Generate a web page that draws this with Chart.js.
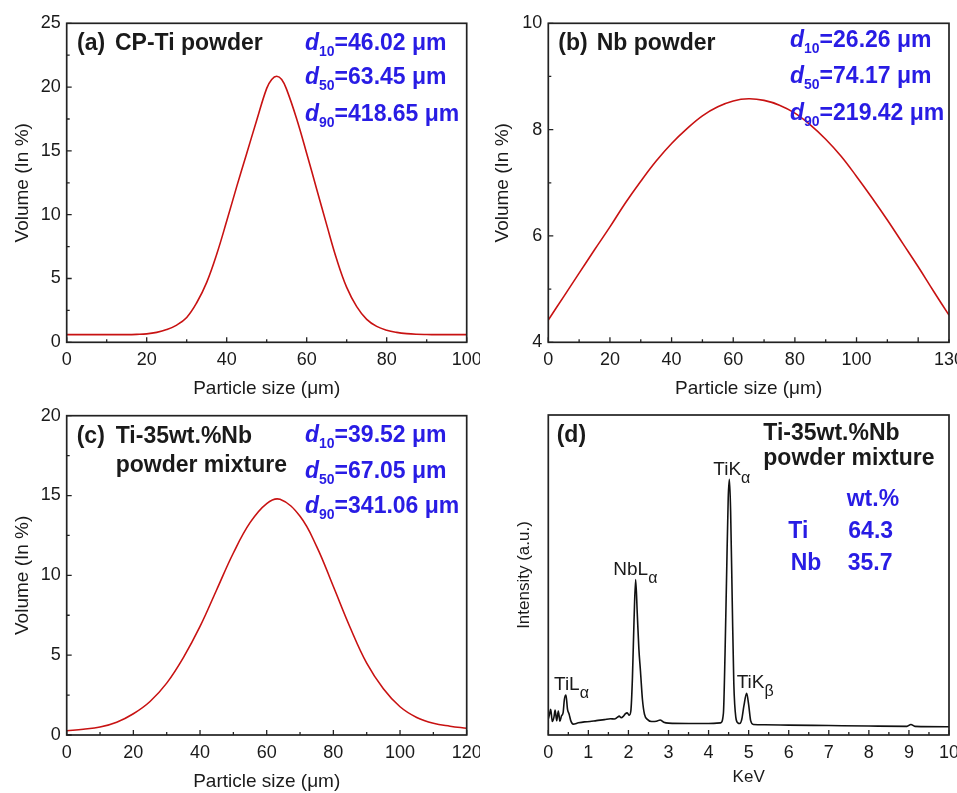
<!DOCTYPE html>
<html><head><meta charset="utf-8">
<script src="https://cdn.jsdelivr.net/npm/chart.js@4/dist/chart.umd.min.js"></script>
<style>
html,body{margin:0;padding:0;background:#fff;}
#wrap{position:relative;width:957px;height:793px;overflow:hidden;background:#fff;}
canvas{position:absolute;}
</style></head><body>
<div id="wrap">
<canvas id="ca" width="480" height="400" style="left:0px;top:0px"></canvas>
<canvas id="cb" width="477" height="400" style="left:480px;top:0px"></canvas>
<canvas id="cc" width="480" height="393" style="left:0px;top:400px"></canvas>
<canvas id="cd" width="477" height="393" style="left:480px;top:400px"></canvas>
</div>
<script>
// ---------- DATA ----------
const tiSize   = [0,2.5,5,7.5,10,12.5,15,17.5,20,22.5,25,27.5,30,32.5,35,37.5,40,42.5,45,47.5,50,51.25,52.5,53.75,55,57.5,60,62.5,65,67.5,70,72.5,75,77.5,80,82.5,85,87.5,90,92.5,95,97.5,100];
const tiVolume = [0.6,0.6,0.6,0.6,0.6,0.6,0.6,0.62,0.66,0.78,1.0,1.35,1.95,3.1,4.7,6.9,9.5,12.2,14.8,17.4,19.9,20.6,20.85,20.6,19.8,17.5,14.8,12.0,9.2,6.5,4.3,2.8,1.8,1.25,0.95,0.78,0.68,0.63,0.61,0.6,0.6,0.6,0.6];

const nbSize   = [0,5,10,15,20,25,30,35,40,45,50,55,60,65,70,75,80,85,90,95,100,105,110,115,120,125,130];
const nbVolume = [4.42,4.86,5.30,5.74,6.17,6.62,7.03,7.41,7.74,8.02,8.26,8.43,8.54,8.58,8.55,8.46,8.31,8.09,7.82,7.50,7.12,6.72,6.30,5.86,5.42,4.96,4.51];

const mixSize   = [0,5,10,15,20,25,30,35,40,45,50,55,60,64,70,75,80,85,90,95,100,105,110,115,120];
const mixVolume = [0.27,0.36,0.5,0.8,1.33,2.1,3.25,4.85,6.8,9.1,11.4,13.3,14.5,14.76,13.7,11.8,9.3,6.75,4.5,2.9,1.77,1.1,0.73,0.55,0.42];

const edsEnergy = [0,0.03,0.06,0.10,0.14,0.17,0.21,0.25,0.29,0.33,0.37,0.40,0.44,0.48,0.52,0.56,0.62,0.75,0.90,1.04,1.20,1.40,1.55,1.65,1.72,1.77,1.82,1.87,1.92,1.97,2.02,2.06,2.10,2.14,2.18,2.22,2.26,2.30,2.35,2.40,2.48,2.58,2.70,2.79,2.88,3.00,3.50,4.00,4.30,4.37,4.41,4.45,4.49,4.52,4.55,4.59,4.63,4.68,4.73,4.78,4.83,4.88,4.95,5.00,5.05,5.12,5.40,6.00,7.00,8.00,8.95,9.05,9.15,10.00];
const edsIntensity = [5.0,6.5,8.0,4.2,5.5,7.8,4.5,7.5,4.3,6.0,7.0,11.0,12.5,8.0,6.5,4.5,3.4,3.8,4.1,4.2,4.5,4.8,5.1,5.0,5.5,5.9,5.4,5.8,6.6,6.9,6.2,7.5,18.0,36.0,48.6,38.0,27.0,20.0,11.0,6.5,4.8,4.2,4.3,4.7,4.0,3.7,3.6,3.6,3.8,6.8,25.0,50.0,74.0,79.9,70.0,42.0,16.0,5.5,3.8,3.6,5.0,9.0,13.0,9.5,4.5,3.3,3.2,3.1,2.95,2.8,2.7,3.3,2.7,2.6];

const xTitleSize = 'Particle size (μm)';
const yTitleVol  = 'Volume (In %)';
const xTitleEds  = 'KeV';
const yTitleEds  = 'Intensity (a.u.)';

// ---------- STYLE ----------
const FF = '"Liberation Sans", Arial, Helvetica, sans-serif';
const RED = 'rgb(200,18,18)';
const BLUE = 'rgb(40,28,228)';
const INK = '#1a1a1a';
Chart.defaults.font.family = FF;
Chart.defaults.color = INK;

function pts(xs, ys){ return xs.map((x,i)=>({x:x, y:ys[i]})); }

function frameTicksPlugin(o){
  return {
    id:'frameTicks',
    afterDatasetsDraw(chart){
      const {ctx, chartArea:a, scales} = chart;
      ctx.save();
      ctx.strokeStyle = '#222';
      ctx.lineWidth = 1.3;
      ctx.beginPath();
      const xs = scales.x;
      const n = Math.round((o.xMax - o.xMin)/o.xMinor);
      for(let i=0;i<=n;i++){
        const v = o.xMin + i*o.xMinor;
        const px = xs.getPixelForValue(v);
        const major = Math.abs(v/o.xMajor - Math.round(v/o.xMajor)) < 1e-6;
        const len = major ? 5 : 3;
        ctx.moveTo(px, a.bottom); ctx.lineTo(px, a.bottom - len);
      }
      if(o.yMinor){
        const ys = scales.y;
        const m = Math.round((o.yMax - o.yMin)/o.yMinor);
        for(let i=0;i<=m;i++){
          const v = o.yMin + i*o.yMinor;
          const py = ys.getPixelForValue(v);
          const major = Math.abs((v-o.yMin)/o.yMajor - Math.round((v-o.yMin)/o.yMajor)) < 1e-6;
          const len = major ? 5 : 3;
          ctx.moveTo(a.left, py); ctx.lineTo(a.left + len, py);
        }
      }
      ctx.stroke();
      ctx.lineWidth = 1.7;
      ctx.strokeStyle = '#222';
      ctx.strokeRect(a.left, a.top, a.right - a.left, a.bottom - a.top);
      // texts
      ctx.textBaseline = 'alphabetic';
      ctx.textAlign = 'left';
      (o.texts||[]).forEach(item=>{
        let x = item.x;
        item.parts.forEach(p=>{
          ctx.font = p.f + ' ' + FF;
          ctx.fillStyle = p.c || INK;
          ctx.fillText(p.t, x, item.y + (p.dy||0));
          x += ctx.measureText(p.t).width + (p.gap||0);
        });
      });
      ctx.restore();
    }
  };
}

function dLine(x, y, sub, rest){
  return {x:x, y:y, parts:[
    {t:'d', f:'italic bold 23px', c:BLUE},
    {t:sub, f:'bold 14px', c:BLUE, dy:6},
    {t:rest, f:'bold 23px', c:BLUE}
  ]};
}
function bold(x,y,t,c){ return {x:x,y:y,parts:[{t:t,f:'bold 23px',c:c||INK}]}; }
function peak(x,y,main,sub){ return {x:x,y:y,parts:[{t:main,f:'19px'},{t:sub,f:'16px',dy:8}]}; }

function makeChart(id, cfg){
  const ticksFont = {size:18, family:FF};
  const titleFont = {size:cfg.titleSize || 19, family:FF};
  return new Chart(document.getElementById(id), {
    type:'line',
    data:{datasets:[{data:cfg.data, borderColor:cfg.color, borderWidth:1.6, pointRadius:0, fill:false,
      cubicInterpolationMode:cfg.mono ? 'monotone' : 'default', tension:0.4}]},
    options:{
      responsive:false, animation:false, devicePixelRatio:1,
      layout:{padding:cfg.pad},
      plugins:{legend:{display:false}, tooltip:{enabled:false}, title:{display:false}},
      scales:{
        x:{type:'linear', min:cfg.xMin, max:cfg.xMax,
           ticks:{stepSize:cfg.xMajor, padding:7, font:ticksFont, color:INK, maxRotation:0, autoSkip:false},
           grid:{display:false, drawTicks:false}, border:{display:false},
           title:{display:true, text:cfg.xTitle, font:titleFont, color:INK, padding:{top:0,bottom:cfg.xTitlePad}},
           afterFit:(s)=>{ s.height = cfg.xH; s.paddingLeft=0; s.paddingRight=0; s.paddingTop=0; s.paddingBottom=0; }
        },
        y:{type:'linear', min:cfg.yMin, max:cfg.yMax,
           ticks:{display:cfg.yTicks, stepSize:cfg.yMajor, padding:6, font:ticksFont, color:INK},
           grid:{display:false, drawTicks:false}, border:{display:false},
           title:{display:true, text:cfg.yTitle, font:titleFont, color:INK, padding:{top:cfg.yTitlePad,bottom:0}},
           afterFit:(s)=>{ s.width = cfg.yW; s.paddingLeft=0; s.paddingRight=0; s.paddingTop=0; s.paddingBottom=0; }
        }
      }
    },
    plugins:[frameTicksPlugin(cfg.frame)]
  });
}

// (a)
makeChart('ca', {
  data: pts(tiSize, tiVolume), color: RED,
  pad:{left:0, top:23.3, right:13.3, bottom:0},
  xMin:0, xMax:100, xMajor:20, yMin:0, yMax:25, yMajor:5, yTicks:true,
  xTitle:xTitleSize, yTitle:yTitleVol, xH:57.7, yW:66.7, xTitlePad:0, yTitlePad:11,
  frame:{xMin:0,xMax:100,xMinor:10,xMajor:20,yMin:0,yMax:25,yMinor:2.5,yMajor:5,
    texts:[ bold(77,50,'(a)'), bold(115,50,'CP-Ti powder'),
      dLine(305,50,'10','=46.02 μm'), dLine(305,84,'50','=63.45 μm'), dLine(305,120.5,'90','=418.65 μm') ]}
});
// (b)
makeChart('cb', {
  data: pts(nbSize, nbVolume), color: RED,
  pad:{left:0, top:23.3, right:8, bottom:0},
  xMin:0, xMax:130, xMajor:20, yMin:4, yMax:10, yMajor:2, yTicks:true,
  xTitle:xTitleSize, yTitle:yTitleVol, xH:57.7, yW:68.3, xTitlePad:0, yTitlePad:11,
  frame:{xMin:0,xMax:130,xMinor:10,xMajor:20,yMin:4,yMax:10,yMinor:1,yMajor:2,
    texts:[ bold(78.3,50,'(b)'), bold(116.7,50,'Nb powder'),
      dLine(310,46.5,'10','=26.26 μm'), dLine(310,83,'50','=74.17 μm'), dLine(310,120,'90','=219.42 μm') ]}
});
// (c)
makeChart('cc', {
  data: pts(mixSize, mixVolume), color: RED,
  pad:{left:0, top:15.7, right:13.3, bottom:0},
  xMin:0, xMax:120, xMajor:20, yMin:0, yMax:20, yMajor:5, yTicks:true,
  xTitle:xTitleSize, yTitle:yTitleVol, xH:58, yW:66.7, xTitlePad:0, yTitlePad:11,
  frame:{xMin:0,xMax:120,xMinor:10,xMajor:20,yMin:0,yMax:20,yMinor:2.5,yMajor:5,
    texts:[ bold(76.7,43.3,'(c)'), bold(115.7,43.3,'Ti-35wt.%Nb'), bold(115.7,71.7,'powder mixture'),
      dLine(305,41.7,'10','=39.52 μm'), dLine(305,78.3,'50','=67.05 μm'), dLine(305,113.3,'90','=341.06 μm') ]}
});
// (d)
makeChart('cd', {
  data: pts(edsEnergy, edsIntensity), color: '#111', mono:true, titleSize:17,
  pad:{left:0, top:15, right:8, bottom:0},
  xMin:0, xMax:10, xMajor:1, yMin:0, yMax:100, yMajor:20, yTicks:false,
  xTitle:xTitleEds, yTitle:yTitleEds, xH:58, yW:68.3, xTitlePad:5, yTitlePad:34,
  frame:{xMin:0,xMax:10,xMinor:0.5,xMajor:1,
    texts:[ bold(76.7,42.3,'(d)'), bold(283.3,40,'Ti-35wt.%Nb'), bold(283.3,65,'powder mixture'),
      bold(366.7,106,'wt.%',BLUE), bold(308.3,138.3,'Ti',BLUE), bold(368.3,138.3,'64.3',BLUE),
      bold(310.7,170,'Nb',BLUE), bold(367.7,170,'35.7',BLUE),
      peak(74,290,'TiL','α'), peak(133.3,175,'NbL','α'), peak(233.3,75,'TiK','α'), peak(256.7,288.3,'TiK','β') ]}
});
</script>
</body></html>
